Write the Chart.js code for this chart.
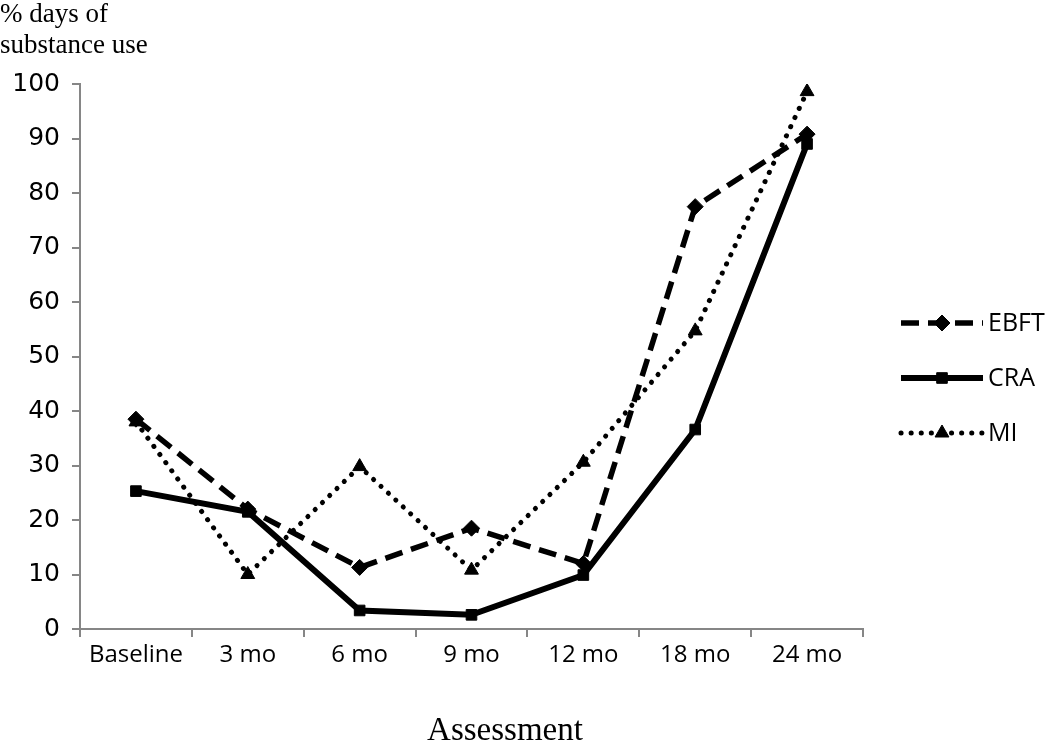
<!DOCTYPE html>
<html>
<head>
<meta charset="utf-8">
<script src="https://cdn.jsdelivr.net/npm/chart.js@4"></script>
<style>
  body { margin: 0; background: #fff; }
</style>
</head>
<body>
<canvas id="useChart" width="1050" height="742"></canvas>
<script>
// data
var assessments = ['Baseline', '3 mo', '6 mo', '9 mo', '12 mo', '18 mo', '24 mo'];
var ebft = [38.5, 22, 11.3, 18.5, 12, 77.5, 90.8];
var cra = [25.3, 21.5, 3.4, 2.6, 9.9, 36.6, 89];
var mi = [38, 10, 29.8, 10.8, 30.6, 54.7, 98.6];
var yTicks = [0, 10, 20, 30, 40, 50, 60, 70, 80, 90, 100];

var axisGrey = '#868686';

// legend with line + marker, drawn on the right
var sideLegend = {
    id: 'sideLegend',
    afterDraw: function (chart) {
        var ctx = chart.ctx;
        var rows = [323, 378, 433];
        chart.data.datasets.forEach(function (ds, i) {
            var y = rows[i];
            ctx.save();
            ctx.strokeStyle = ds.borderColor;
            ctx.lineWidth = ds.borderWidth;
            ctx.lineCap = ds.borderCapStyle || 'butt';
            ctx.setLineDash(ds.legendDash || []);
            ctx.beginPath();
            ctx.moveTo(901, y);
            ctx.lineTo(983, y);
            ctx.stroke();
            ctx.restore();
            ctx.save();
            ctx.fillStyle = '#000';
            ctx.strokeStyle = '#000';
            Chart.helpers.drawPoint(ctx, {
                pointStyle: ds.pointStyle,
                radius: ds.pointRadius,
                rotation: 0,
                borderWidth: 1
            }, 942, y);
            ctx.restore();
            ctx.save();
            ctx.fillStyle = '#000';
            ctx.font = '25px "Open Sans"';
            ctx.textBaseline = 'middle';
            ctx.fillText(ds.label, 988, y + 1);
            ctx.restore();
        });

        // axis titles
        ctx.save();
        ctx.fillStyle = '#000';
        ctx.font = '27px "Liberation Serif"';
        ctx.textBaseline = 'alphabetic';
        ctx.fillText('% days of', 0, 22);
        ctx.fillText('substance use', 0, 53);
        ctx.font = '33px "Liberation Serif"';
        ctx.textAlign = 'center';
        ctx.fillText('Assessment', 505, 740);
        ctx.restore();
    }
};

var ctx = document.getElementById('useChart').getContext('2d');
var useChart = new Chart(ctx, {
    type: 'line',
    data: {
        labels: assessments,
        datasets: [{
            label: 'EBFT',
            data: ebft,
            borderColor: '#000',
            backgroundColor: '#000',
            borderWidth: 5.5,
            borderDash: [18, 9],
            legendDash: [18, 9],
            pointStyle: 'rectRot',
            pointRadius: 8,
            pointBorderWidth: 1,
            tension: 0
        }, {
            label: 'CRA',
            data: cra,
            borderColor: '#000',
            backgroundColor: '#000',
            borderWidth: 6,
            pointStyle: 'rect',
            pointRadius: 7.5,
            pointBorderWidth: 1,
            tension: 0
        }, {
            label: 'MI',
            data: mi,
            borderColor: '#000',
            backgroundColor: '#000',
            borderWidth: 5,
            borderDash: [0.1, 10],
            legendDash: [0.1, 10],
            borderCapStyle: 'round',
            pointStyle: 'triangle',
            pointRadius: 8,
            pointBorderWidth: 1,
            tension: 0
        }]
    },
    options: {
        responsive: false,
        animation: false,
        layout: {
            padding: { left: 0, top: 84, right: 187, bottom: 0 }
        },
        plugins: {
            legend: { display: false },
            tooltip: { enabled: false }
        },
        scales: {
            x: {
                offset: true,
                afterFit: function (scale) { scale.height = 113; },
                border: { color: axisGrey, width: 2 },
                grid: {
                    offset: true,
                    drawOnChartArea: false,
                    color: axisGrey,
                    lineWidth: 2,
                    tickLength: 8
                },
                ticks: {
                    color: '#000',
                    font: { family: 'Open Sans', size: 24 },
                    padding: 4,
                    maxRotation: 0,
                    autoSkip: false
                }
            },
            y: {
                min: 0,
                max: 100,
                afterFit: function (scale) { scale.width = 80; },
                afterBuildTicks: function (scale) {
                    scale.ticks = yTicks.map(function (v) { return { value: v }; });
                },
                border: { color: axisGrey, width: 2 },
                grid: {
                    drawOnChartArea: false,
                    color: axisGrey,
                    lineWidth: 2,
                    tickLength: 8
                },
                ticks: {
                    color: '#000',
                    font: { family: 'DejaVu Sans', size: 25 },
                    padding: 12
                }
            }
        }
    },
    plugins: [sideLegend]
});
</script>
</body>
</html>
